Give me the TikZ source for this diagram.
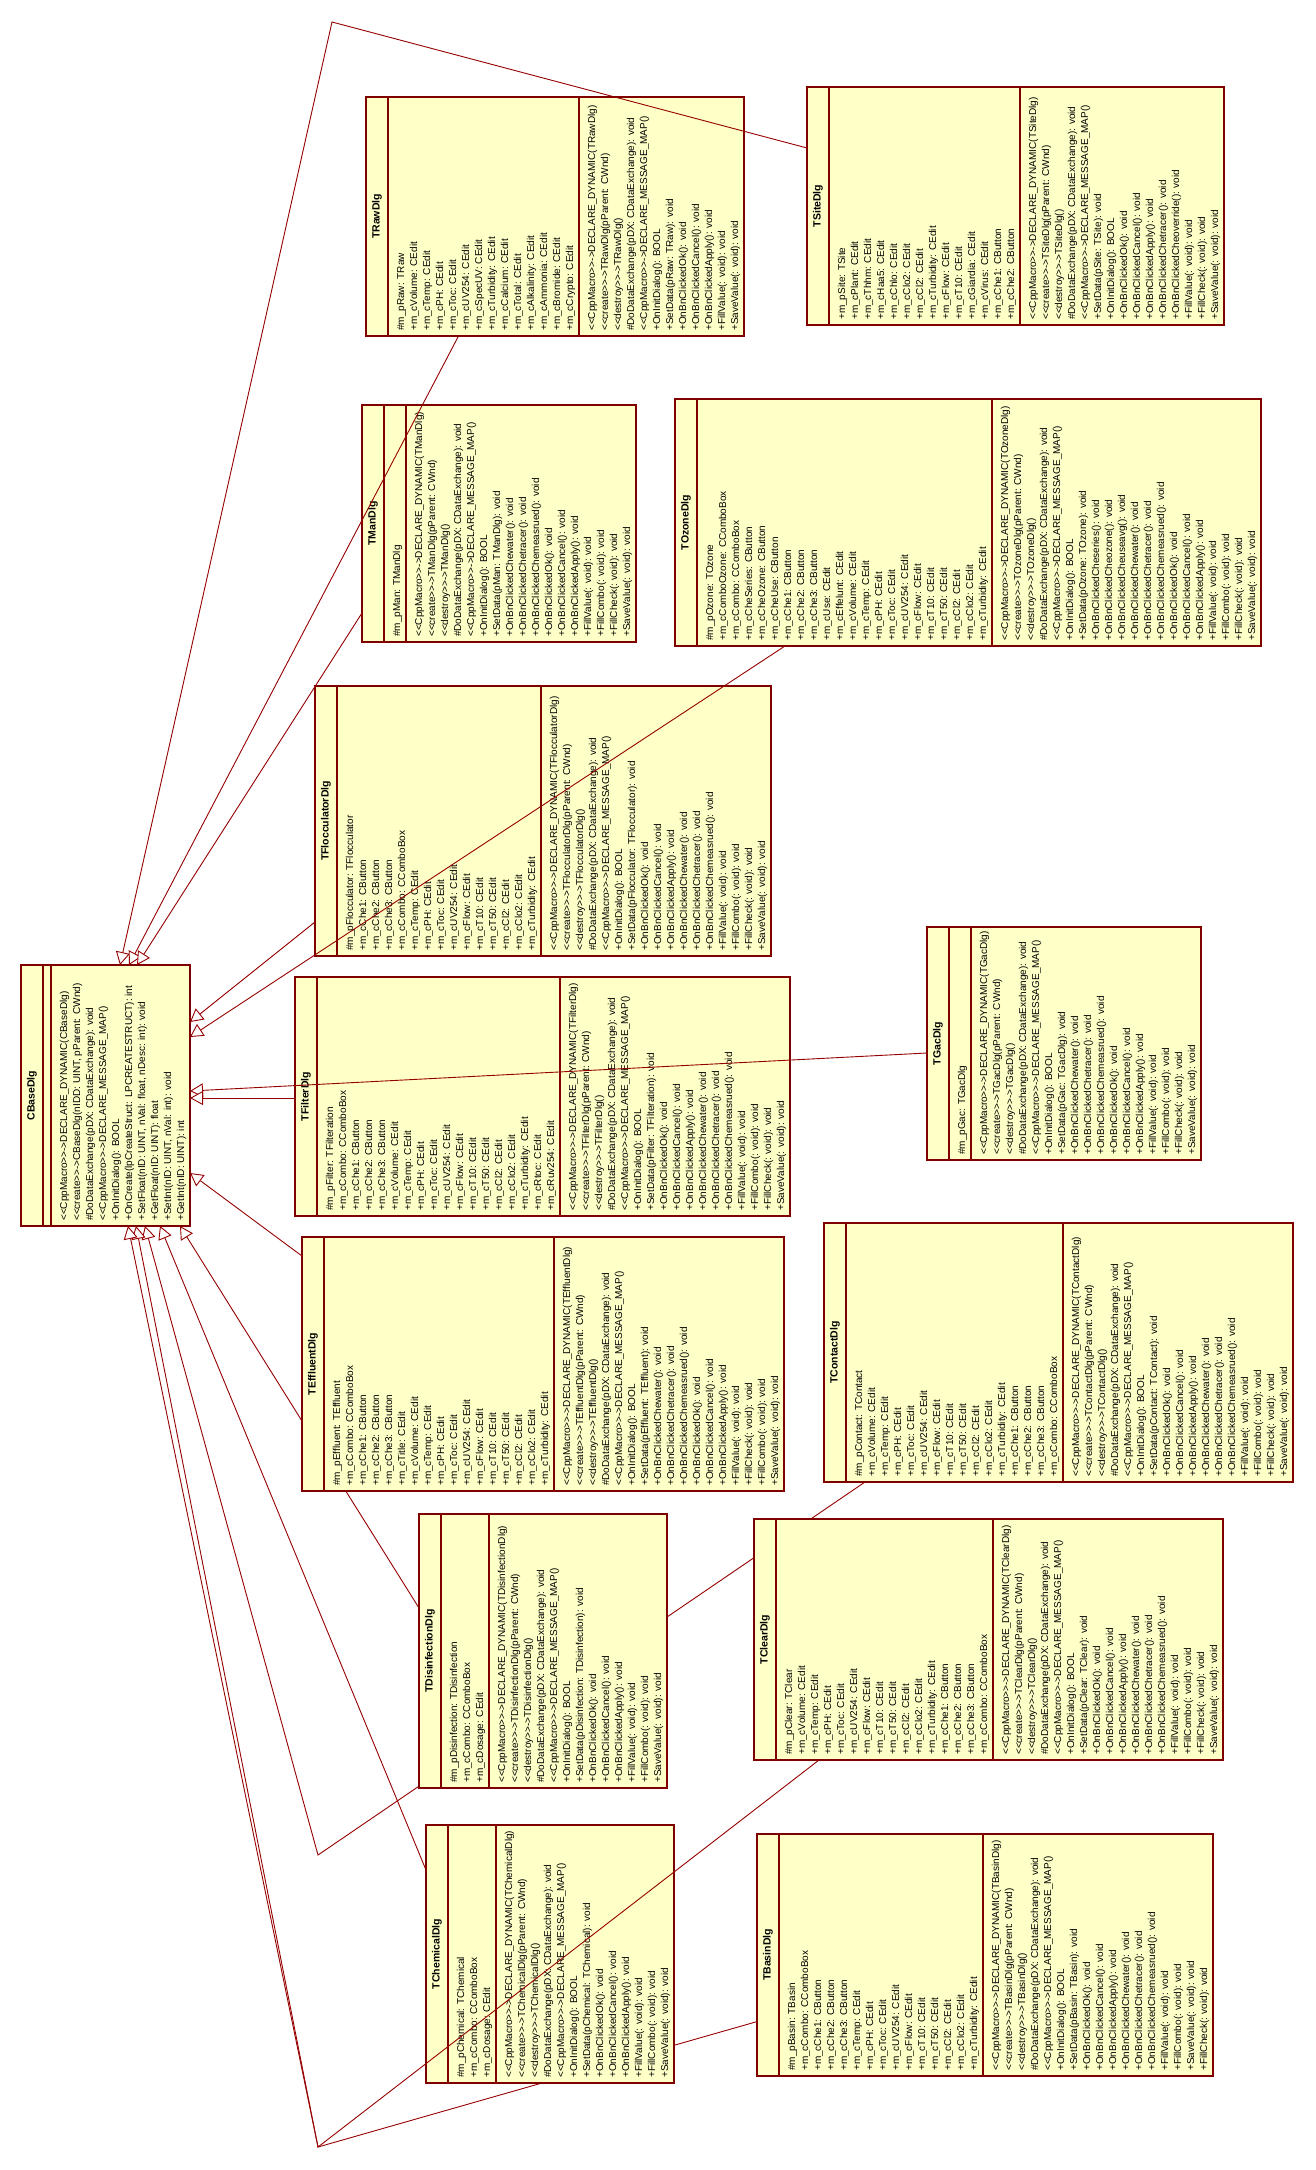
\documentclass[tikz,border=0pt]{standalone}
\usepackage{fontspec}
\setmainfont{Liberation Sans}
\usetikzlibrary{arrows.meta}
\definecolor{umlfill}{RGB}{255,255,200}
\definecolor{umlred}{RGB}{128,0,0}
\definecolor{linkred}{RGB}{150,0,0}
\newcommand\LL{<\kern0pt<}
\newcommand\GG{>\kern0pt>}
\newcommand\mDyn[1]{\LL CppMacro\GG->DECLARE\_DYNAMIC(#1)}
\newcommand\mCre[1]{\LL create\GG->#1(pParent: CWnd)}
\newcommand\mDes[1]{\LL destroy\GG->#1()}
\newcommand\mDDX{\#DoDataExchange(pDX: CDataExchange): void}
\newcommand\mMap{\LL CppMacro\GG->DECLARE\_MESSAGE\_MAP()}
\newcommand\mIni{+OnInitDialog(): BOOL}
\newcommand\mSet[2]{+SetData(#1: #2): void}
\newcommand\mBn[1]{+OnBnClicked#1(): void}
\newcommand\mFn[1]{+#1(: void): void}
\newcommand\aE[1]{+m\_c#1: CEdit}
\newcommand\aB[1]{+m\_c#1: CButton}
\newcommand\aCB[1]{+m\_c#1: CComboBox}
\newcommand\aP[2]{\#m\_p#1: #2}
% id, left, top, bottom, title, attrs, nattrs, methods, nmethods
\newcommand\umlclass[9]{%
  \pgfmathsetmacro\uA{#2+22+(#7>0 ? #7*13+9 : 8)}%
  \pgfmathsetmacro\uR{\uA+#9*13+9}%
  \pgfmathsetmacro\uW{\uR-#2}%
  \pgfmathsetmacro\uH{#4-#3}%
  \node[classbox,minimum width=\uW pt,minimum height=\uH pt,anchor=north west] (#1) at (#2,#3) {};
  \draw[compline] (#2+22,#3) -- (#2+22,#4) (\uA,#3) -- (\uA,#4);
  \node[titletxt] at ({#2+11},{(#3+#4)/2}) {#5};
  \ifnum#7>0
    \foreach \itm [count=\k] in {#6} {\node[linetxt] at ({#2+22+16+13*(\k-1)},{#4-5}) {\itm};}
  \fi
  \foreach \itm [count=\k] in {#8} {\node[linetxt] at ({\uA+16+13*(\k-1)},{#4-5}) {\itm};}
}
\begin{document}
\begin{tikzpicture}[x=1pt,y=-1pt,
  classbox/.style={draw=umlred,fill=umlfill,line width=1.2pt,inner sep=0pt,outer sep=0pt,rectangle},
  compline/.style={draw=umlred,line width=1.2pt},
  titletxt/.style={rotate=90,inner sep=0pt,font=\fontsize{10.5}{13}\selectfont\bfseries},
  linetxt/.style={rotate=90,anchor=base west,inner sep=0pt,font=\fontsize{10}{13}\selectfont},
  inh/.style={draw=linkred,line width=0.9pt,-{Triangle[length=13pt,width=14pt,fill=white]}}]
\fill[white] (0,0) rectangle (1316,2170);
\useasboundingbox (0,0) rectangle (1316,2170);

% attachment points and bends
\coordinate (bt1) at (120,965);
\coordinate (bt2) at (129,965);
\coordinate (bt3) at (137,965);
\coordinate (br1) at (190,1022);
\coordinate (br2) at (190,1037);
\coordinate (br3) at (190,1091);
\coordinate (br4) at (190,1098);
\coordinate (br5) at (190,1173);
\coordinate (bb1) at (128,1226);
\coordinate (bb2) at (136,1226);
\coordinate (bb3) at (145,1226);
\coordinate (bb4) at (160,1226);
\coordinate (bb5) at (180,1226);
\coordinate (kSite) at (332,22);
\coordinate (kContact) at (318,1855);
\coordinate (kLow) at (318,2147);
\coordinate (pSite) at (807,148);
\coordinate (pRaw) at (458,337);
\coordinate (pMan) at (362,613);
\coordinate (pOzone) at (785,646);
\coordinate (pFloc) at (315,922);
\coordinate (pGac) at (927,1053);
\coordinate (pFilter) at (295,1098);
\coordinate (pEffl) at (302,1256);
\coordinate (pDisinf) at (419,1608);
\coordinate (pContact) at (865,1482);
\coordinate (pChem) at (426,1870);
\coordinate (pClear) at (819,1760);
\coordinate (pBasin) at (759,2021);

% connectors hidden behind boxes
\draw[inh] (pContact) -- (kContact) -- (bb3);
\draw[inh] (pBasin) -- (kLow) -- (bb2);
\draw[inh] (pDisinf) -- (bb5);

% classes
\umlclass{base}{21}{965}{1226}{CBaseDlg}{}{0}{\mDyn{CBaseDlg},{\LL create\GG->CBaseDlg(nIDD: UINT, pParent: CWnd)},\mDDX,\mMap,\mIni,+OnCreate(lpCreateStruct: LPCREATESTRUCT): int,{+SetFloat(nID: UINT, nVal: float, nDesc: int): void},+GetFloat(nID: UINT): float,{+SetInt(nID: UINT, nVal: int): void},+GetInt(nID: UINT): int}{10}

\umlclass{raw}{366}{97}{336}{TRawDlg}{\aP{Raw}{TRaw},\aE{Volume},\aE{Temp},\aE{PH},\aE{Toc},\aE{UV254},\aE{SpecUV},\aE{Turbidity},\aE{Calcium},\aE{Total},\aE{Alkalinity},\aE{Ammonia},\aE{Bromide},\aE{Crypto}}{14}{\mDyn{TRawDlg},\mCre{TRawDlg},\mDes{TRawDlg},\mDDX,\mMap,\mIni,\mSet{pRaw}{TRaw},\mBn{Ok},\mBn{Cancel},\mBn{Apply},\mFn{FillValue},\mFn{SaveValue}}{12}

\umlclass{site}{807}{87}{325}{TSiteDlg}{+m\_pSite: TSite,\aE{Plant},\aE{Thhm},\aE{Haa5},\aE{Chlo},\aE{Clo2},\aE{Cl2},\aE{Turbidity},\aE{Flow},\aE{T10},\aE{Giardia},\aE{Virus},\aB{Che1},\aB{Che2}}{14}{\mDyn{TSiteDlg},\mCre{TSiteDlg},\mDes{TSiteDlg},\mDDX,\mMap,\mSet{pSite}{TSite},\mIni,\mBn{Ok},\mBn{Cancel},\mBn{Apply},\mBn{Chetracer},\mBn{Cheoverride},\mFn{FillValue},\mFn{FillCheck},\mFn{SaveValue}}{15}

\umlclass{man}{362}{405}{642}{TManDlg}{\aP{Man}{TManDlg}}{1}{\mDyn{TManDlg},\mCre{TManDlg},\mDes{TManDlg},\mDDX,\mMap,\mIni,\mSet{pMan}{TManDlg},\mBn{Chewater},\mBn{Chetracer},\mBn{Chemeasrued},\mBn{Ok},\mBn{Cancel},\mBn{Apply},\mFn{FillValue},\mFn{FillCombo},\mFn{FillCheck},\mFn{SaveValue}}{17}

\umlclass{ozone}{675}{399}{646}{TOzoneDlg}{\aP{Ozone}{TOzone},\aCB{ComboOzone},\aCB{Combo},\aB{CheSeries},\aB{CheOzone},\aB{CheUse},\aB{Che1},\aB{Che2},\aB{Che3},\aE{Use},\aE{Effelunt},\aE{Volume},\aE{Temp},\aE{PH},\aE{Toc},\aE{UV254},\aE{Flow},\aE{T10},\aE{T50},\aE{Cl2},\aE{Clo2},\aE{Turbidity}}{22}{\mDyn{TOzoneDlg},\mCre{TOzoneDlg},\mDes{TOzoneDlg},\mDDX,\mMap,\mIni,\mSet{pOzone}{TOzone},\mBn{Cheseries},\mBn{Cheozone},\mBn{Cheuseavg},\mBn{Chewater},\mBn{Chetracer},\mBn{Chemeasrued},\mBn{Ok},\mBn{Cancel},\mBn{Apply},\mFn{FillValue},\mFn{FillCombo},\mFn{FillCheck},\mFn{SaveValue}}{20}

\umlclass{floc}{315}{686}{956}{TFlocculatorDlg}{\aP{Flocculator}{TFlocculator},\aB{Che1},\aB{Che2},\aB{Che3},\aCB{Combo},\aE{Temp},\aE{PH},\aE{Toc},\aE{UV254},\aE{Flow},\aE{T10},\aE{T50},\aE{Cl2},\aE{Clo2},\aE{Turbidity}}{15}{\mDyn{TFlocculatorDlg},\mCre{TFlocculatorDlg},\mDes{TFlocculatorDlg},\mDDX,\mMap,\mIni,\mSet{pFlocculator}{TFlocculator},\mBn{Ok},\mBn{Cancel},\mBn{Apply},\mBn{Chewater},\mBn{Chetracer},\mBn{Chemeasrued},\mFn{FillValue},\mFn{FillCombo},\mFn{FillCheck},\mFn{SaveValue}}{17}

\umlclass{gac}{927}{927}{1160}{TGacDlg}{\aP{Gac}{TGacDlg}}{1}{\mDyn{TGacDlg},\mCre{TGacDlg},\mDes{TGacDlg},\mDDX,\mMap,\mIni,\mSet{pGac}{TGacDlg},\mBn{Chewater},\mBn{Chetracer},\mBn{Chemeasrued},\mBn{Ok},\mBn{Cancel},\mBn{Apply},\mFn{FillValue},\mFn{FillCombo},\mFn{FillCheck},\mFn{SaveValue}}{17}

\umlclass{filter}{295}{977}{1216}{TFilterDlg}{\aP{Filter}{TFilteration},\aCB{Combo},\aB{Che1},\aB{Che2},\aB{Che3},\aE{Volume},\aE{Temp},\aE{PH},\aE{Toc},\aE{UV254},\aE{Flow},\aE{T10},\aE{T50},\aE{Cl2},\aE{Clo2},\aE{Turbidity},\aE{Rtoc},\aE{Ruv254}}{18}{\mDyn{TFilterDlg},\mCre{TFilterDlg},\mDes{TFilterDlg},\mDDX,\mMap,\mIni,\mSet{pFilter}{TFilteration},\mBn{Ok},\mBn{Cancel},\mBn{Apply},\mBn{Chewater},\mBn{Chetracer},\mBn{Chemeasrued},\mFn{FillValue},\mFn{FillCombo},\mFn{FillCheck},\mFn{SaveValue}}{17}

\umlclass{effl}{302}{1237}{1491}{TEffluentDlg}{\aP{Effluent}{TEffluent},\aCB{Combo},\aB{Che1},\aB{Che2},\aB{Che3},\aE{Title},\aE{Volume},\aE{Temp},\aE{PH},\aE{Toc},\aE{UV254},\aE{Flow},\aE{T10},\aE{T50},\aE{Cl2},\aE{Clo2},\aE{Turbidity}}{17}{\mDyn{TEffluentDlg},\mCre{TEffluentDlg},\mDes{TEffluentDlg},\mDDX,\mMap,\mIni,\mSet{pEffluent}{TEffluent},\mBn{Chewater},\mBn{Chetracer},\mBn{Chemeasrued},\mBn{Ok},\mBn{Cancel},\mBn{Apply},\mFn{FillValue},\mFn{FillCheck},\mFn{FillCombo},\mFn{SaveValue}}{17}

\umlclass{contact}{824}{1223}{1482}{TContactDlg}{\aP{Contact}{TContact},\aE{Volume},\aE{Temp},\aE{PH},\aE{Toc},\aE{UV254},\aE{Flow},\aE{T10},\aE{T50},\aE{Cl2},\aE{Clo2},\aE{Turbidity},\aB{Che1},\aB{Che2},\aB{Che3},\aCB{Combo}}{16}{\mDyn{TContactDlg},\mCre{TContactDlg},\mDes{TContactDlg},\mDDX,\mMap,\mIni,\mSet{pContact}{TContact},\mBn{Ok},\mBn{Cancel},\mBn{Apply},\mBn{Chewater},\mBn{Chetracer},\mBn{Chemeasrued},\mFn{FillValue},\mFn{FillCombo},\mFn{FillCheck},\mFn{SaveValue}}{17}

\umlclass{disinf}{419}{1514}{1788}{TDisinfectionDlg}{\aP{Disinfection}{TDisinfection},\aCB{Combo},\aE{Dosage}}{3}{\mDyn{TDisinfectionDlg},\mCre{TDisinfectionDlg},\mDes{TDisinfectionDlg},\mDDX,\mMap,\mIni,\mSet{pDisinfection}{TDisinfection},\mBn{Ok},\mBn{Cancel},\mBn{Apply},\mFn{FillValue},\mFn{FillCombo},\mFn{SaveValue}}{13}

\umlclass{clear}{754}{1519}{1760}{TClearDlg}{\aP{Clear}{TClear},\aE{Volume},\aE{Temp},\aE{PH},\aE{Toc},\aE{UV254},\aE{Flow},\aE{T10},\aE{T50},\aE{Cl2},\aE{Clo2},\aE{Turbidity},\aB{Che1},\aB{Che2},\aB{Che3},\aCB{Combo}}{16}{\mDyn{TClearDlg},\mCre{TClearDlg},\mDes{TClearDlg},\mDDX,\mMap,\mIni,\mSet{pClear}{TClear},\mBn{Ok},\mBn{Cancel},\mBn{Apply},\mBn{Chewater},\mBn{Chetracer},\mBn{Chemeasrued},\mFn{FillValue},\mFn{FillCombo},\mFn{FillCheck},\mFn{SaveValue}}{17}

\umlclass{chem}{426}{1825}{2083}{TChemicalDlg}{\aP{Chemical}{TChemical},\aCB{Combo},\aE{Dosage}}{3}{\mDyn{TChemicalDlg},\mCre{TChemicalDlg},\mDes{TChemicalDlg},\mDDX,\mMap,\mIni,\mSet{pChemical}{TChemical},\mBn{Ok},\mBn{Cancel},\mBn{Apply},\mFn{FillValue},\mFn{FillCombo},\mFn{SaveValue}}{13}

\umlclass{basin}{757}{1834}{2076}{TBasinDlg}{\aP{Basin}{TBasin},\aCB{Combo},\aB{Che1},\aB{Che2},\aB{Che3},\aE{Temp},\aE{PH},\aE{Toc},\aE{UV254},\aE{Flow},\aE{T10},\aE{T50},\aE{Cl2},\aE{Clo2},\aE{Turbidity}}{15}{\mDyn{TBasinDlg},\mCre{TBasinDlg},\mDes{TBasinDlg},\mDDX,\mMap,\mIni,\mSet{pBasin}{TBasin},\mBn{Ok},\mBn{Cancel},\mBn{Apply},\mBn{Chewater},\mBn{Chetracer},\mBn{Chemeasrued},\mFn{FillValue},\mFn{FillCombo},\mFn{SaveValue},\mFn{FillCheck}}{17}

% connectors drawn over boxes
\draw[inh] (pSite) -- (kSite) -- (bt1);
\draw[inh] (pRaw) -- (bt2);
\draw[inh] (pMan) -- (bt3);
\draw[inh] (pOzone) -- (br2);
\draw[inh] (pFloc) -- (br1);
\draw[inh] (pGac) -- (br3);
\draw[inh] (pFilter) -- (br4);
\draw[inh] (pEffl) -- (br5);
\draw[inh] (pChem) -- (bb4);
\draw[inh] (pClear) -- (kLow) -- (bb1);
\end{tikzpicture}
\end{document}
